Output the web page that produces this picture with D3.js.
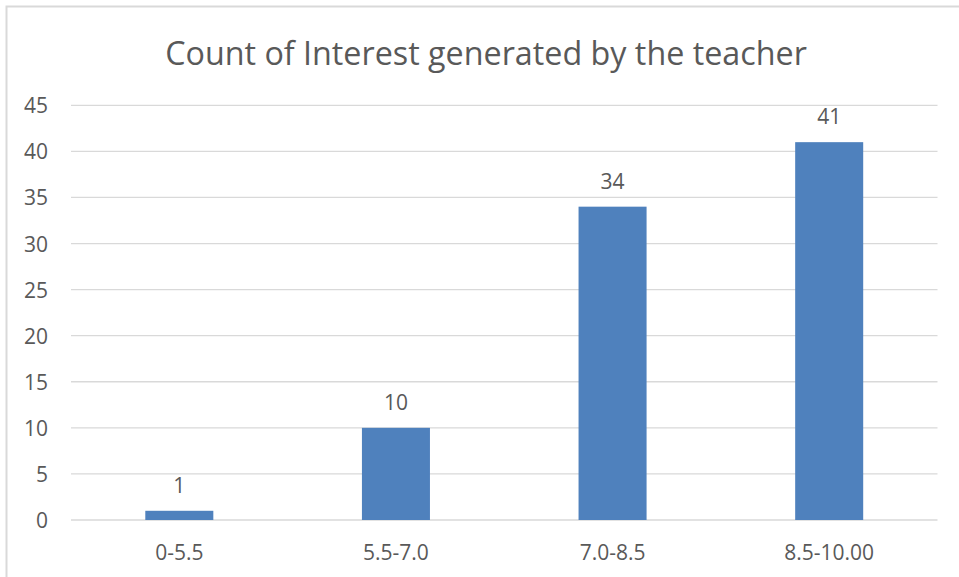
<!DOCTYPE html>
<html>
<head>
<meta charset="utf-8">
<script src="https://cdn.jsdelivr.net/npm/d3@7"></script>
<style>
  body { margin: 0; background: #fff; }
  svg text { font-family: "Open Sans", sans-serif; fill: #595959; }
</style>
</head>
<body>
<script>
// Chart data
var categories = ["0-5.5", "5.5-7.0", "7.0-8.5", "8.5-10.00"];
var counts = [1, 10, 34, 41];
var yTicks = [0, 5, 10, 15, 20, 25, 30, 35, 40, 45];
var titleText = "Count of Interest generated by the teacher";

var w = 959;
var h = 577;

var plot = { left: 71, right: 937.5, top: 105.3, bottom: 520 };

var svg = d3.select("body").append("svg")
    .attr("width", w)
    .attr("height", h);

// Outer chart border (only top and left visible in the frame)
svg.append("rect")
    .attr("x", 6.5)
    .attr("y", 6.5)
    .attr("width", w + 20)
    .attr("height", h + 20)
    .attr("fill", "none")
    .attr("stroke", "#d9d9d9")
    .attr("stroke-width", 2);

var x = d3.scaleBand()
    .domain(categories)
    .range([plot.left, plot.right])
    .paddingInner(0.686)
    .paddingOuter(0.343);

var y = d3.scaleLinear()
    .domain([0, 45])
    .range([plot.bottom, plot.top]);

// Gridlines
svg.append("g")
    .selectAll("line")
    .data(yTicks)
    .enter()
    .append("line")
    .attr("x1", plot.left)
    .attr("x2", plot.right)
    .attr("y1", function(d) { return y(d); })
    .attr("y2", function(d) { return y(d); })
    .attr("stroke", "#d9d9d9")
    .attr("stroke-width", 1.3);

// Y axis labels
var yAxis = d3.axisLeft(y)
    .tickValues(yTicks)
    .tickSize(0)
    .tickPadding(0);

var yAxisG = svg.append("g")
    .attr("transform", "translate(48,0)")
    .call(yAxis);
yAxisG.select(".domain").remove();
yAxisG.selectAll("text")
    .attr("font-size", 21)
    .attr("dy", 7.5)
    .attr("fill", "#595959")
    .style("font-family", "'Open Sans', sans-serif");

// X axis labels
var xAxis = d3.axisBottom(x)
    .tickSize(0)
    .tickPadding(0);

var xAxisG = svg.append("g")
    .attr("transform", "translate(0," + plot.bottom + ")")
    .call(xAxis);
xAxisG.select(".domain").remove();
xAxisG.selectAll("text")
    .attr("font-size", 21)
    .attr("y", 40)
    .attr("dy", 0)
    .attr("fill", "#595959")
    .style("font-family", "'Open Sans', sans-serif");

// Bars
svg.append("g")
    .selectAll("rect")
    .data(counts)
    .enter()
    .append("rect")
    .attr("x", function(d, i) { return x(categories[i]); })
    .attr("y", function(d) { return y(d); })
    .attr("width", x.bandwidth())
    .attr("height", function(d) { return y(0) - y(d); })
    .attr("fill", "#4f81bd");

// Data labels
svg.append("g")
    .selectAll("text")
    .data(counts)
    .enter()
    .append("text")
    .attr("x", function(d, i) { return x(categories[i]) + x.bandwidth() / 2; })
    .attr("y", function(d) { return y(d) - 18; })
    .attr("text-anchor", "middle")
    .attr("font-size", 21)
    .text(function(d) { return d; });

// Title, fitted to the width it takes in the reference
var title = svg.append("text")
    .attr("x", 486)
    .attr("y", 65)
    .attr("text-anchor", "middle")
    .attr("font-size", 33)
    .text(titleText);
var tl = title.node().getComputedTextLength();
title.attr("font-size", 33 * 642 / tl);
</script>
</body>
</html>
